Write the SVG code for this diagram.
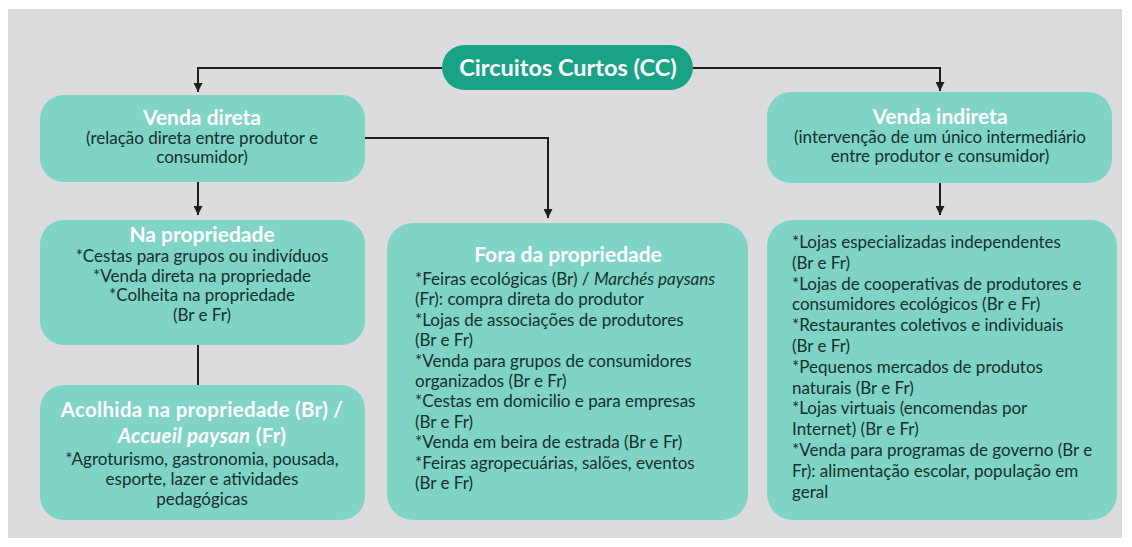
<svg xmlns="http://www.w3.org/2000/svg" width="1132" height="547" viewBox="0 0 1132 547">
<defs>
<marker id="arr" viewBox="0 0 10 10" refX="10" refY="5" markerWidth="9" markerHeight="9" markerUnits="userSpaceOnUse" orient="auto">
<path d="M0,0 L10,5 L0,10 z" fill="#1e1e1e"/>
</marker>
<style>
.box{fill:#7fd4c5;}
.pill{fill:#19a386;}
.ttl{font-family:Lato,"Liberation Sans",sans-serif;font-weight:bold;font-size:21px;fill:#ffffff;text-anchor:middle;}
.big{font-size:23.5px;}
.ttl2{font-size:20.5px;letter-spacing:0.3px;}
.body{font-family:Lato,"Liberation Sans",sans-serif;font-size:17px;fill:#15302b;}
.mid{text-anchor:middle;}
.it{font-style:italic;}
.con{fill:none;stroke:#1e1e1e;stroke-width:2;}
</style>
</defs>
<rect x="0" y="0" width="1132" height="547" fill="#ffffff"/>
<rect x="8" y="9" width="1114" height="529" fill="#dcdcde"/>

<g id="connectors">
<path class="con" d="M442,68 H198 V92" marker-end="url(#arr)"/>
<path class="con" d="M693,68 H940 V91" marker-end="url(#arr)"/>
<path class="con" d="M198,182 V215" marker-end="url(#arr)"/>
<path class="con" d="M365,138 H548 V218" marker-end="url(#arr)"/>
<path class="con" d="M940,183 V215" marker-end="url(#arr)"/>
<path class="con" d="M198,345 V385"/>
</g>

<g id="node-cc">
<rect class="pill" x="442" y="45" width="251" height="45" rx="22.5"/>
<text class="ttl big" x="568" y="76">Circuitos Curtos (CC)</text>
</g>

<g id="node-venda-direta">
<rect class="box" x="40" y="95" width="325" height="87" rx="24"/>
<text class="ttl" x="202" y="125">Venda direta</text>
<text class="body mid" x="202" y="144">(relação direta entre produtor e</text>
<text class="body mid" x="202" y="163">consumidor)</text>
</g>

<g id="node-venda-indireta">
<rect class="box" x="767" y="92" width="345" height="91" rx="24"/>
<text class="ttl" x="940" y="124">Venda indireta</text>
<text class="body mid" x="940" y="143">(intervenção de um único intermediário</text>
<text class="body mid" x="940" y="162">entre produtor e consumidor)</text>
</g>

<g id="node-na-propriedade">
<rect class="box" x="40" y="220" width="325" height="125" rx="24"/>
<text class="ttl" x="202" y="242">Na propriedade</text>
<text class="body mid" x="202" y="262">*Cestas para grupos ou indivíduos</text>
<text class="body mid" x="202" y="281.5">*Venda direta na propriedade</text>
<text class="body mid" x="202" y="301">*Colheita na propriedade</text>
<text class="body mid" x="202" y="320.5">(Br e Fr)</text>
</g>

<g id="node-acolhida">
<rect class="box" x="40" y="385" width="325" height="135" rx="24"/>
<text class="ttl ttl2" x="202" y="417">Acolhida na propriedade (Br) /</text>
<text class="ttl ttl2" x="202" y="443"><tspan class="it">Accueil paysan</tspan> (Fr)</text>
<text class="body mid" x="202" y="465">*Agroturismo, gastronomia, pousada,</text>
<text class="body mid" x="202" y="485">esporte, lazer e atividades</text>
<text class="body mid" x="202" y="505">pedagógicas</text>
</g>

<g id="node-fora">
<rect class="box" x="387" y="223" width="361" height="297" rx="26"/>
<text class="ttl" x="568" y="262">Fora da propriedade</text>
<text class="body" x="415" y="285">*Feiras ecológicas (Br) / <tspan class="it">Marchés paysans</tspan></text>
<text class="body" x="415" y="305.4">(Fr): compra direta do produtor</text>
<text class="body" x="415" y="325.8">*Lojas de associações de produtores</text>
<text class="body" x="415" y="346.2">(Br e Fr)</text>
<text class="body" x="415" y="366.6">*Venda para grupos de consumidores</text>
<text class="body" x="415" y="387">organizados (Br e Fr)</text>
<text class="body" x="415" y="407.4">*Cestas em domicilio e para empresas</text>
<text class="body" x="415" y="427.8">(Br e Fr)</text>
<text class="body" x="415" y="448.2">*Venda em beira de estrada (Br e Fr)</text>
<text class="body" x="415" y="468.6">*Feiras agropecuárias, salões, eventos</text>
<text class="body" x="415" y="489">(Br e Fr)</text>
</g>

<g id="node-indireta-lista">
<rect class="box" x="767" y="220" width="350" height="300" rx="26"/>
<text class="body" x="792" y="248">*Lojas especializadas independentes</text>
<text class="body" x="792" y="268.8">(Br e Fr)</text>
<text class="body" x="792" y="289.6">*Lojas de cooperativas de produtores e</text>
<text class="body" x="792" y="310.4">consumidores ecológicos (Br e Fr)</text>
<text class="body" x="792" y="331.2">*Restaurantes coletivos e individuais</text>
<text class="body" x="792" y="352">(Br e Fr)</text>
<text class="body" x="792" y="372.8">*Pequenos mercados de produtos</text>
<text class="body" x="792" y="393.6">naturais (Br e Fr)</text>
<text class="body" x="792" y="414.4">*Lojas virtuais (encomendas por</text>
<text class="body" x="792" y="435.2">Internet) (Br e Fr)</text>
<text class="body" x="792" y="456">*Venda para programas de governo (Br e</text>
<text class="body" x="792" y="476.8">Fr): alimentação escolar, população em</text>
<text class="body" x="792" y="497.6">geral</text>
</g>
</svg>
